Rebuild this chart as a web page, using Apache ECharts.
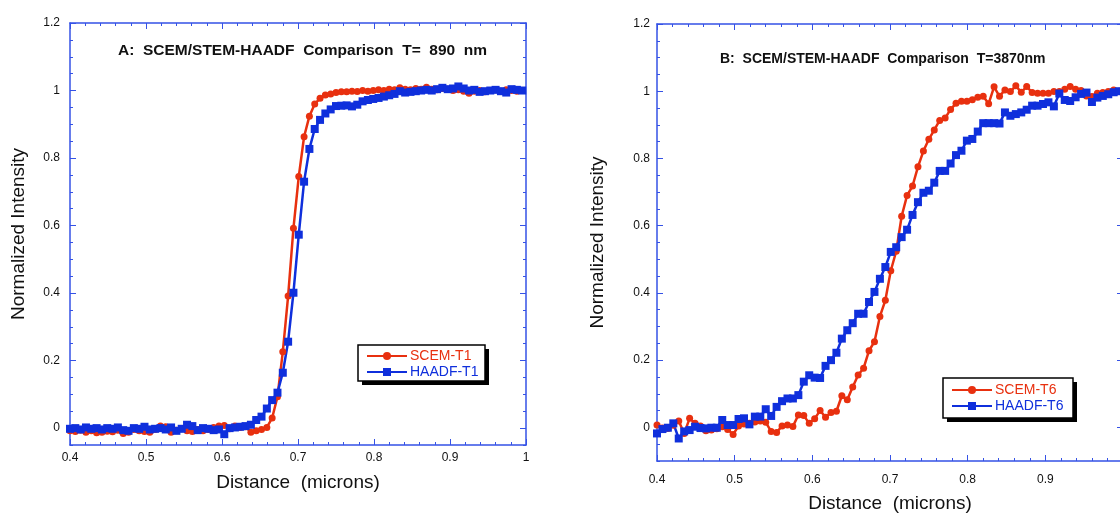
<!DOCTYPE html>
<html>
<head>
<meta charset="utf-8">
<script src="https://cdn.jsdelivr.net/npm/echarts@6/dist/echarts.min.js"></script>
<style>
  html, body { margin: 0; padding: 0; background: #fff; }
  #chart { width: 1120px; height: 515px; }
</style>
</head>
<body>
<div id="chart"></div>
<script>
// sample positions along the line scan (microns), same grid for both panels
var distance = [0.400, 0.407, 0.414, 0.421, 0.428, 0.435, 0.442, 0.449, 0.456, 0.463,
  0.470, 0.477, 0.484, 0.491, 0.498, 0.505, 0.512, 0.519, 0.526, 0.533,
  0.540, 0.547, 0.554, 0.561, 0.568, 0.575, 0.582, 0.589, 0.596, 0.603,
  0.610, 0.617, 0.624, 0.631, 0.638, 0.645, 0.652, 0.659, 0.666, 0.673,
  0.680, 0.687, 0.694, 0.701, 0.708, 0.715, 0.722, 0.729, 0.736, 0.743,
  0.750, 0.757, 0.764, 0.771, 0.778, 0.785, 0.792, 0.799, 0.806, 0.813,
  0.820, 0.827, 0.834, 0.841, 0.848, 0.855, 0.862, 0.869, 0.876, 0.883,
  0.890, 0.897, 0.904, 0.911, 0.918, 0.925, 0.932, 0.939, 0.946, 0.953,
  0.960, 0.967, 0.974, 0.981, 0.988, 0.995];

// panel A, T = 890 nm
var scemT1 = [-0.008, -0.010, -0.006, -0.012, -0.008, -0.014, -0.012, -0.009, -0.011, -0.006,
  -0.016, -0.012, -0.004, -0.008, -0.010, -0.012, -0.004, 0.006, 0.004, -0.012,
  -0.006, -0.002, -0.008, -0.010, -0.004, -0.008, -0.004, 0.002, 0.006, 0.008,
  -0.002, 0.006, 0.002, 0.004, -0.012, -0.008, -0.004, 0.002, 0.030, 0.093,
  0.226, 0.391, 0.592, 0.745, 0.863, 0.924, 0.960, 0.977, 0.987, 0.990,
  0.994, 0.996, 0.996, 0.998, 0.997, 1.000, 0.998, 1.000, 1.002, 1.000,
  1.004, 1.002, 1.008, 1.004, 1.002, 1.006, 1.004, 1.010, 1.004, 1.002,
  1.006, 1.004, 1.000, 1.002, 0.998, 0.992, 0.998, 1.000, 0.996, 1.000,
  1.002, 0.998, 1.002, 1.000, 0.998, 1.000];
var haadfT1 = [-0.002, 0.000, -0.004, 0.002, -0.002, 0.000, -0.004, 0.000, -0.002, 0.002,
  -0.006, -0.008, 0.000, -0.002, 0.004, -0.004, -0.002, 0.000, -0.004, 0.002,
  -0.008, -0.002, 0.010, 0.006, -0.006, 0.000, -0.002, -0.006, -0.004, -0.018,
  0.000, 0.002, 0.004, 0.006, 0.010, 0.024, 0.034, 0.058, 0.083, 0.105,
  0.164, 0.256, 0.401, 0.573, 0.730, 0.827, 0.886, 0.913, 0.932, 0.944,
  0.954, 0.955, 0.956, 0.953, 0.958, 0.968, 0.972, 0.975, 0.978, 0.982,
  0.986, 0.990, 0.998, 0.994, 0.996, 0.998, 1.000, 1.002, 1.000, 1.004,
  1.008, 1.004, 1.006, 1.012, 1.006, 1.000, 1.002, 0.996, 0.998, 1.000,
  1.002, 0.998, 0.994, 1.004, 1.002, 1.000];

// panel B, T = 3870 nm
var scemT6 = [0.007, -0.002, -0.003, 0.006, 0.019, -0.018, 0.027, 0.012, 0.004, -0.010,
  -0.008, -0.004, 0.002, -0.006, -0.021, 0.004, 0.010, 0.012, 0.016, 0.019,
  0.015, -0.012, -0.015, 0.004, 0.007, 0.003, 0.037, 0.035, 0.012, 0.026,
  0.050, 0.030, 0.044, 0.048, 0.094, 0.082, 0.120, 0.156, 0.176, 0.228,
  0.255, 0.330, 0.378, 0.466, 0.524, 0.628, 0.690, 0.718, 0.775, 0.822,
  0.857, 0.885, 0.913, 0.920, 0.946, 0.964, 0.970, 0.970, 0.975, 0.982,
  0.985, 0.963, 1.013, 0.985, 1.004, 0.999, 1.016, 0.997, 1.014, 0.996,
  0.994, 0.994, 0.994, 0.999, 0.999, 1.006, 1.014, 1.006, 1.002, 0.986,
  0.984, 0.994, 0.996, 0.999, 1.004, 1.000];
var haadfT6 = [-0.018, -0.005, -0.001, 0.012, -0.033, -0.012, -0.008, 0.002, -0.002, -0.003,
  -0.001, -0.001, 0.022, 0.007, 0.007, 0.025, 0.027, 0.009, 0.032, 0.032,
  0.054, 0.034, 0.061, 0.078, 0.086, 0.086, 0.096, 0.136, 0.155, 0.148,
  0.147, 0.183, 0.200, 0.222, 0.264, 0.289, 0.310, 0.338, 0.338, 0.373,
  0.403, 0.442, 0.477, 0.522, 0.536, 0.566, 0.588, 0.632, 0.670, 0.698,
  0.704, 0.728, 0.763, 0.763, 0.785, 0.810, 0.823, 0.853, 0.858, 0.880,
  0.905, 0.905, 0.905, 0.904, 0.937, 0.927, 0.932, 0.937, 0.945, 0.957,
  0.957, 0.962, 0.967, 0.955, 0.993, 0.974, 0.971, 0.982, 0.992, 0.996,
  0.968, 0.981, 0.986, 0.991, 0.997, 1.000];

var majorY = [0, 0.2, 0.4, 0.6, 0.8, 1, 1.2];

var RED = '#e8300f';
var BLUE = '#0f2fdc';
var AX = '#3552e6';
var FONT = 'Liberation Sans, Arial, Helvetica, sans-serif';

function pairs(xs, ys) {
  return xs.map(function (x, i) { return [x, ys[i]]; });
}

function xAxes(grid, labelMargin, nameGap) {
  var base = {
    type: 'value', gridIndex: grid, min: 0.4, max: 1, interval: 0.1,
    splitLine: { show: false },
    axisLine: { onZero: false, lineStyle: { color: AX, width: 1.5 } },
    axisTick: { inside: true, length: 6, lineStyle: { color: AX, width: 1 } },
    minorTick: { show: true, splitNumber: 5, length: 3, lineStyle: { color: AX, width: 1 } },
    minorSplitLine: { show: false }
  };
  return [
    Object.assign({}, base, {
      position: 'bottom',
      axisLabel: { margin: labelMargin, fontSize: 12, color: '#111', fontFamily: FONT },
      name: 'Distance  (microns)', nameLocation: 'middle', nameGap: nameGap,
      nameTextStyle: { fontSize: 19, color: '#111', fontFamily: FONT }
    }),
    Object.assign({}, base, {
      position: 'top',
      axisLabel: { show: false }
    })
  ];
}

function yAxes(grid, min, labelMargin, nameGap) {
  var minor = {
    type: 'value', gridIndex: grid, min: min, max: 1.2, interval: 0.05,
    splitLine: { show: false },
    axisLine: { onZero: false, lineStyle: { color: AX, width: 1.5 } },
    axisTick: { inside: true, length: 3, lineStyle: { color: AX, width: 1 } }
  };
  var major = {
    type: 'value', gridIndex: grid, min: min, max: 1.2,
    splitLine: { show: false },
    axisLine: { show: false, onZero: false },
    axisLabel: { show: false },
    axisTick: { inside: true, length: 6, customValues: majorY, lineStyle: { color: AX, width: 1 } }
  };
  return [
    Object.assign({}, minor, {
      position: 'left',
      axisLabel: {
        margin: labelMargin, fontSize: 12, color: '#111', fontFamily: FONT,
        formatter: function (v) {
          var k = v / 0.2;
          if (Math.abs(k - Math.round(k)) > 1e-6) return '';
          return String(Math.round(v * 10) / 10);
        }
      },
      name: 'Normalized Intensity', nameLocation: 'middle', nameGap: nameGap,
      nameTextStyle: { fontSize: 19, color: '#111', fontFamily: FONT }
    }),
    Object.assign({}, major, { position: 'left' }),
    Object.assign({}, minor, {
      position: 'right',
      axisLabel: { show: false }
    }),
    Object.assign({}, major, { position: 'right' })
  ];
}

function lineSeries(name, xi, yi, ys, color, symbol, size) {
  return {
    type: 'line', name: name, xAxisIndex: xi, yAxisIndex: yi,
    data: pairs(distance, ys),
    symbol: symbol, symbolSize: size, showSymbol: true, showAllSymbol: true,
    lineStyle: { color: color, width: 2.5 },
    itemStyle: { color: color },
    emphasis: { disabled: true }
  };
}

function legendItems(names, left, top) {
  return {
    orient: 'vertical', left: left, top: top, z: 20,
    data: [
      { name: names[0], textStyle: { color: RED } },
      { name: names[1], textStyle: { color: BLUE } }
    ],
    itemWidth: 40, itemHeight: 10, itemGap: 2,
    padding: 0,
    textStyle: { fontSize: 14, fontFamily: FONT, padding: [0, 0, 0, -2] },
    selectedMode: false
  };
}

// legend frame with a hard drop shadow, drawn behind the legend items
function legendFrame(x, y, w, h) {
  return [
    { type: 'rect', z: 10, shape: { x: x + 4, y: y + 4, width: w, height: h },
      style: { fill: '#000' } },
    { type: 'rect', z: 11, shape: { x: x, y: y, width: w, height: h },
      style: { fill: '#fff', stroke: '#000', lineWidth: 1.5 } }
  ];
}

var chart = echarts.init(document.getElementById('chart'), null, { renderer: 'canvas' });

chart.setOption({
  animation: false,
  backgroundColor: '#fff',
  title: [
    { text: 'A:  SCEM/STEM-HAADF  Comparison  T=  890  nm', left: 118, top: 43, padding: 0,
      textStyle: { fontSize: 15.5, fontWeight: 'bold', color: '#111', fontFamily: FONT } },
    { text: 'B:  SCEM/STEM-HAADF  Comparison  T=3870nm', left: 720, top: 52, padding: 0,
      textStyle: { fontSize: 14, fontWeight: 'bold', color: '#111', fontFamily: FONT } }
  ],
  grid: [
    { left: 70, top: 23, width: 456, height: 422, outerBoundsMode: 'none' },
    { left: 657, top: 24, width: 466, height: 437, outerBoundsMode: 'none' }
  ],
  xAxis: xAxes(0, 7, 28).concat(xAxes(1, 13, 33)),
  yAxis: yAxes(0, -0.05, 10, 42).concat(yAxes(1, -0.1, 7, 50)),
  graphic: legendFrame(358, 345, 127, 36).concat(legendFrame(943, 378, 130, 40)),
  legend: [
    legendItems(['SCEM-T1', 'HAADF-T1'], 366, 349),
    legendItems(['SCEM-T6', 'HAADF-T6'], 951, 383)
  ],
  series: [
    lineSeries('SCEM-T1', 0, 0, scemT1, RED, 'circle', 7),
    lineSeries('HAADF-T1', 0, 0, haadfT1, BLUE, 'rect', 8),
    lineSeries('SCEM-T6', 2, 4, scemT6, RED, 'circle', 7),
    lineSeries('HAADF-T6', 2, 4, haadfT6, BLUE, 'rect', 8)
  ]
});
</script>
</body>
</html>
